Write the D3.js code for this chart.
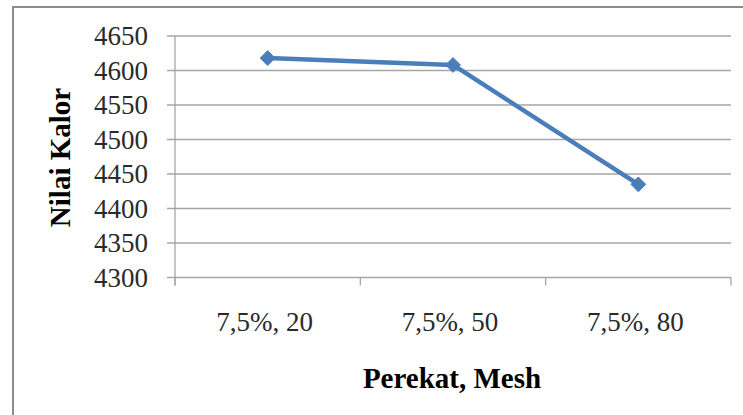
<!DOCTYPE html>
<html>
<head>
<meta charset="utf-8">
<script src="https://cdn.jsdelivr.net/npm/d3@7"></script>
<style>
  html, body { margin: 0; padding: 0; background: #fff; }
  svg { display: block; }
</style>
</head>
<body>
<svg id="chart" width="743" height="415"></svg>
<script>
// Heating value for each binder / mesh combination
const categories = ["7,5%, 20", "7,5%, 50", "7,5%, 80"];
const nilaiKalor = [4618, 4608, 4435];
const yTicks = [4300, 4350, 4400, 4450, 4500, 4550, 4600, 4650];

const svg = d3.select("#chart");
const W = 743, H = 415;
const plot = { left: 175, right: 731, top: 36, bottom: 277.5 };
const serif = "'Liberation Serif', 'Times New Roman', serif";

// outer frame (only top and left edges fall inside the view)
svg.append("path")
  .attr("d", `M13,${H} L13,7 L${W},7`)
  .attr("fill", "none")
  .attr("stroke", "#8c8c8c")
  .attr("stroke-width", 2);

const x = d3.scalePoint().domain(categories).range([plot.left, plot.right]).padding(0.5);
const y = d3.scaleLinear().domain([4300, 4650]).range([plot.bottom, plot.top]);

// horizontal gridlines
svg.append("g")
  .selectAll("line")
  .data(yTicks)
  .join("line")
  .attr("x1", plot.left - 8)
  .attr("x2", plot.right)
  .attr("y1", d => y(d))
  .attr("y2", d => y(d))
  .attr("stroke", "#a6a6a6")
  .attr("stroke-width", 1.3);

// y axis line
svg.append("line")
  .attr("x1", plot.left).attr("x2", plot.left)
  .attr("y1", plot.top).attr("y2", plot.bottom + 8)
  .attr("stroke", "#a6a6a6").attr("stroke-width", 1.3);

// category tick marks on the x axis
const step = x.step();
const boundaries = d3.range(categories.length + 1).map(i => plot.left + i * step);
svg.append("g")
  .selectAll("line")
  .data(boundaries)
  .join("line")
  .attr("x1", d => d).attr("x2", d => d)
  .attr("y1", plot.bottom).attr("y2", plot.bottom + 8)
  .attr("stroke", "#a6a6a6").attr("stroke-width", 1.3);

// y tick labels
svg.append("g")
  .selectAll("text")
  .data(yTicks)
  .join("text")
  .attr("x", 148)
  .attr("y", d => y(d))
  .attr("dy", "0.35em")
  .attr("text-anchor", "end")
  .attr("font-family", serif)
  .attr("font-size", 27)
  .attr("fill", "#2a2a2a")
  .text(d => d);

// x tick labels
svg.append("g")
  .selectAll("text")
  .data(categories)
  .join("text")
  .attr("x", d => x(d) - 3)
  .attr("y", 331)
  .attr("text-anchor", "middle")
  .attr("font-family", serif)
  .attr("font-size", 27)
  .attr("fill", "#2a2a2a")
  .text(d => d);

// axis titles
svg.append("text")
  .attr("x", 452)
  .attr("y", 388)
  .attr("text-anchor", "middle")
  .attr("font-family", serif)
  .attr("font-weight", "bold")
  .attr("font-size", 29)
  .attr("fill", "#000")
  .text("Perekat, Mesh");

svg.append("text")
  .attr("transform", "translate(70,157.5) rotate(-90)")
  .attr("text-anchor", "middle")
  .attr("font-family", serif)
  .attr("font-weight", "bold")
  .attr("font-size", 29)
  .attr("fill", "#000")
  .text("Nilai Kalor");

// series line
const pts = categories.map((c, i) => [x(c), y(nilaiKalor[i])]);
svg.append("path")
  .attr("d", d3.line()(pts))
  .attr("fill", "none")
  .attr("stroke", "#4a7ebb")
  .attr("stroke-width", 4.5)
  .attr("stroke-linejoin", "round");

// diamond markers
svg.append("g")
  .selectAll("path")
  .data(pts)
  .join("path")
  .attr("transform", d => `translate(${d[0]},${d[1]})`)
  .attr("d", d3.symbol().type(d3.symbolDiamond2).size(140)())
  .attr("fill", "#4a7ebb")
  .attr("stroke", "#4a7ebb")
  .attr("stroke-width", 1);
</script>
</body>
</html>
